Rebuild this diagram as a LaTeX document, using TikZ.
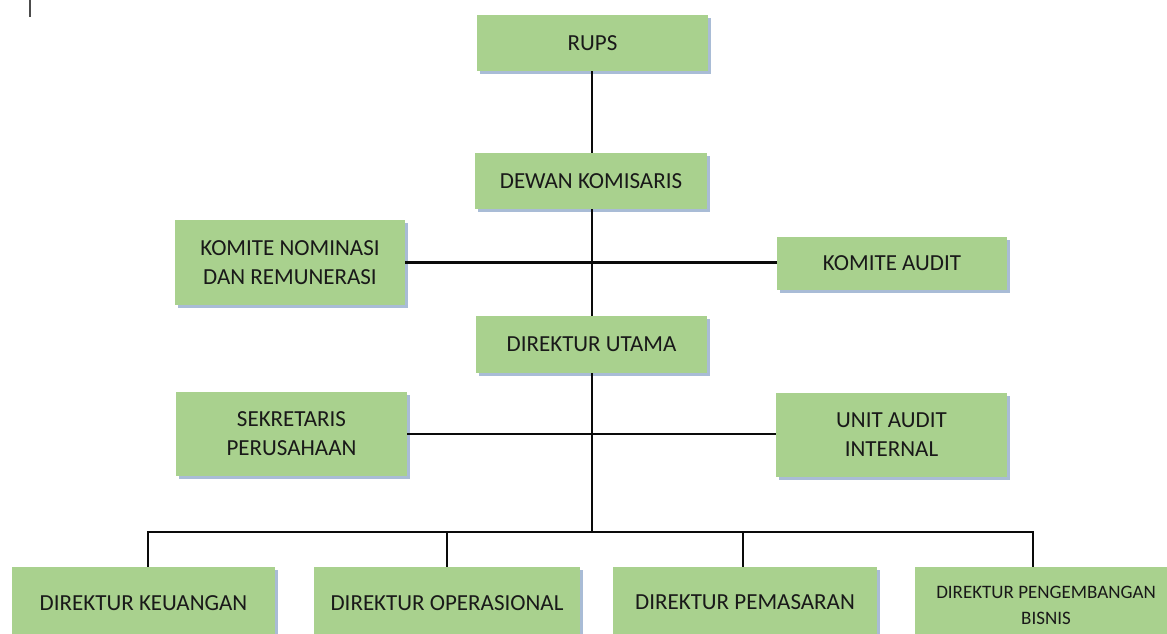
\documentclass[tikz,border=0pt]{standalone}
\usepackage{fontspec}
\setmainfont{Carlito}
\definecolor{boxgreen}{RGB}{169,209,142}
\definecolor{shadowblue}{RGB}{140,165,200}
\definecolor{linecol}{RGB}{10,10,10}
\definecolor{txtcol}{RGB}{25,25,25}
\begin{document}
\begin{tikzpicture}[x=1pt,y=-1pt,
  orgbox/.style={rectangle, fill=boxgreen, draw=none, inner sep=0pt, align=center,
    text=txtcol, font=\fontsize{23}{29}\selectfont},
  lbl/.style={text=txtcol, font=\fontsize{23}{29}\selectfont, inner sep=0pt},
  shade/.style={fill=shadowblue, opacity=0.75},
  conn/.style={draw=linecol, line width=2.2pt}]
\useasboundingbox (0,0) rectangle (1167,633);
\clip (0,0) rectangle (1167,633);
% small mark top-left
\draw[line width=2pt, draw=black!70] (30,0) -- (30,17);
% shadows
\foreach \a/\b/\c/\d in {477/15/708/71, 475/153/707/209, 175/220/405/305, 777/237/1007/290,
  476/316/707/373, 176/392/407/476, 776/393/1007/477, 12/567/275/645, 314/567/580/645,
  613/567/877/645, 915/567/1180/645}
  \fill[shade] (\a+2.5,\b+2.5) rectangle (\c+2.5,\d+2.5);
% boxes
\node[orgbox, minimum width=231pt, minimum height=56pt] (rups) at (592.5,43) {RUPS};
\node[orgbox, minimum width=232pt, minimum height=56pt] (dewan) at (591,181) {DEWAN KOMISARIS};
\node[orgbox, minimum width=230pt, minimum height=85pt] (komnom) at (290,262.5) {KOMITE NOMINASI\\DAN REMUNERASI};
\node[orgbox, minimum width=230pt, minimum height=53pt] (komaud) at (892,263.5) {KOMITE AUDIT};
\node[orgbox, minimum width=231pt, minimum height=57pt] (dirut) at (591.5,344.5) {DIREKTUR UTAMA};
\node[orgbox, minimum width=231pt, minimum height=84pt] (sekr) at (291.5,434) {SEKRETARIS\\PERUSAHAAN};
\node[orgbox, minimum width=231pt, minimum height=84pt] (unit) at (891.5,435) {UNIT AUDIT\\INTERNAL};
\node[orgbox, minimum width=263pt, minimum height=78pt] (keu) at (143.5,606) {};
\node[orgbox, minimum width=266pt, minimum height=78pt] (ops) at (447,606) {};
\node[orgbox, minimum width=264pt, minimum height=78pt] (pem) at (745,606) {};
\node[orgbox, minimum width=265pt, minimum height=78pt] (peng) at (1047.5,606) {};
\node[lbl] (keut) at (143.5,603) {DIREKTUR KEUANGAN};
\node[lbl] (opst) at (447,603) {DIREKTUR OPERASIONAL};
\node[lbl] (pemt) at (745,602) {DIREKTUR PEMASARAN};
\node[lbl, font=\fontsize{19}{26}\selectfont, align=center] (pengt) at (1046,605) {DIREKTUR PENGEMBANGAN\\BISNIS};
% connectors
\coordinate (bus) at (592,532);
\coordinate (busL) at (148,532);
\coordinate (busR) at (1033,532);
\draw[conn] (bus |- rups.south) -- (bus |- dewan.north);
\draw[conn] (bus |- dewan.south) -- (bus |- dirut.north);
\draw[conn] (bus |- dirut.south) -- (bus);
\draw[conn] (komnom.east) -- (komnom.east -| komaud.west);
\draw[conn] (sekr.east) -- (sekr.east -| unit.west);
\draw[conn] (busL |- keu.north) -- (busL) -- (busR) -- (busR |- peng.north);
\draw[conn] (ops.north) -- (ops.north |- bus);
\draw[conn] (pem.north) ++(-2,0) -- ++(0,-35);
\end{tikzpicture}
\end{document}
